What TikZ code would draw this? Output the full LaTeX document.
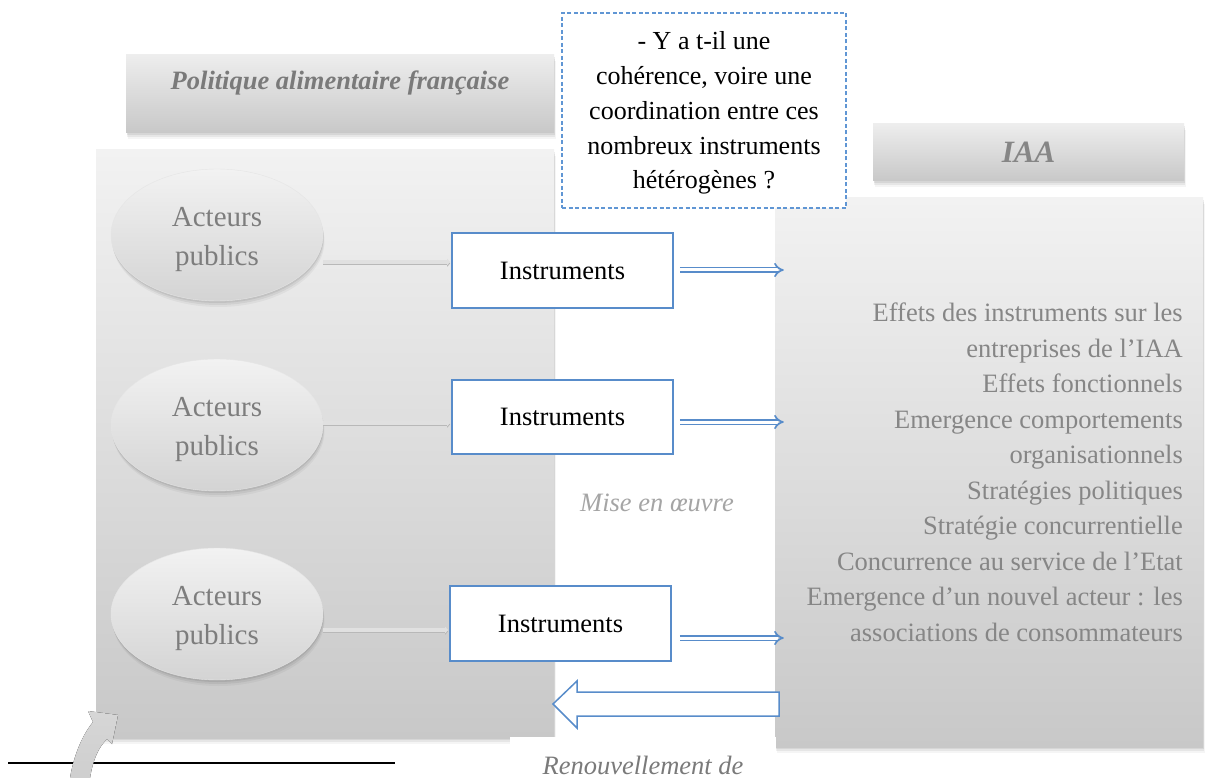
\documentclass[tikz,border=0pt]{standalone}
\usepackage{fontspec}
\setmainfont{Liberation Serif}
\usetikzlibrary{arrows.meta,calc,shapes.geometric,shadows}
\definecolor{myblue}{RGB}{88,140,202}
\definecolor{dashblue}{RGB}{96,150,212}
\definecolor{ttlgray}{RGB}{122,122,122}
\definecolor{acgray}{RGB}{125,125,125}
\definecolor{rtxt}{RGB}{134,134,134}
\definecolor{mise}{RGB}{165,165,165}
\definecolor{pantop}{RGB}{242,242,242}
\definecolor{panbot}{RGB}{200,200,200}
\begin{document}
\begin{tikzpicture}[x=1pt,y=-1pt,
  softshadow/.style={
    drop shadow={fill=black,opacity=0.07,shadow xshift=0.5pt,shadow yshift=-2pt},
    drop shadow={fill=black,opacity=0.06,shadow xshift=1pt,shadow yshift=-4pt},
    drop shadow={fill=black,opacity=0.04,shadow xshift=1.5pt,shadow yshift=-6pt}},
  panel/.style={softshadow, rectangle, inner sep=0pt, top color=pantop, bottom color=panbot, draw=none},
  titlebox/.style={softshadow, rectangle, inner sep=0pt, top color=pantop!98!black, bottom color=panbot, draw=none,
    font=\fontsize{26.5}{32}\selectfont\bfseries\itshape, text=ttlgray},
  acteur/.style={softshadow, ellipse, inner sep=0pt, minimum width=212pt, minimum height=132pt,
    top color=pantop, bottom color=black!17, draw=black!10, line width=0.4pt,
    align=center, font=\fontsize{29}{39}\selectfont, text=acgray},
  instr/.style={rectangle, fill=white, draw=myblue, line width=1.6pt, minimum width=221pt, minimum height=75pt,
    inner sep=0pt, font=\fontsize{26.5}{32}\selectfont, text=black},
  grayconn/.style={preaction={draw=black!28, line width=3pt, transform canvas={yshift=-1.5pt}},
    draw=black!12, line width=3.5pt, -{Triangle[length=3pt,width=6pt]}, shorten >=1pt},
  dblarrow/.style={draw=myblue, double=white, double distance=3pt, line width=1.7pt, -{Implies}},
]
\useasboundingbox (0,0) rectangle (1208,778);
\clip (0,0) rectangle (1208,778);
\fill[white] (0,0) rectangle (1208,778);

% panels
\node[panel, minimum width=458pt, minimum height=588pt] (lbox) at (325,444) {};
\node[panel, minimum width=428pt, minimum height=549pt] (rbox) at (989,472.5) {};
\node[titlebox, minimum width=428pt, minimum height=78pt, text height=19pt, text depth=27pt] (tl) at (340,94) {Politique alimentaire française};
\node[titlebox, minimum width=311pt, minimum height=57pt, font=\fontsize{31}{36}\selectfont\bfseries\itshape, text=rtxt] (tr) at (1028.5,152.5) {IAA};

% question box
\node[draw=dashblue, dash pattern=on 4pt off 2.5pt, line width=1.3pt, fill=white, minimum width=284pt, minimum height=195pt,
  inner sep=0pt, align=center, font=\fontsize{26}{34.9}\selectfont] (q) at (704,110.5)
  {\rule{0pt}{23pt}- Y a t-il une\\cohérence, voire une\\coordination entre ces\\nombreux instruments\\hétérogènes ?};

% actors
\node[acteur] (e1) at (217,235) {\rule{0pt}{27.5pt}Acteurs\\publics};
\node[acteur] (e2) at (217,425) {\rule{0pt}{27.5pt}Acteurs\\publics};
\node[acteur] (e3) at (217,614) {\rule{0pt}{27.5pt}Acteurs\\publics};

% instruments
\node[instr] (i1) at (562.5,270.5) {Instruments};
\node[instr, minimum height=74pt] (i2) at (562.5,417) {Instruments};
\node[instr] (i3) at (560.5,623.5) {Instruments};

% gray connectors
\coordinate (g1) at (0,262);
\coordinate (g2) at (0,423);
\coordinate (g3) at (0,630);
\draw[grayconn] (e1.east |- g1) -- (i1.west |- g1);
\draw[grayconn] (e2.east |- g2) -- (i2.west |- g2);
\draw[grayconn] (e3.east |- g3) -- (i3.west |- g3);

% blue double arrows
\coordinate (b1) at (0,270);
\coordinate (b2) at (0,422);
\coordinate (b3) at (0,638);
\draw[dblarrow, shorten <=6pt, shorten >=-9pt] (i1.east |- b1) -- (rbox.west |- b1);
\draw[dblarrow, shorten <=6pt, shorten >=-9pt] (i2.east |- b2) -- (rbox.west |- b2);
\draw[dblarrow, shorten <=8pt, shorten >=-9pt] (i3.east |- b3) -- (rbox.west |- b3);

% effects text
\node[anchor=north east, align=right, inner sep=0pt, font=\fontsize{26.5}{35.5}\selectfont, text=rtxt] (effets) at (1183,303)
  {Effets des instruments sur les\\entreprises de l’IAA\\Effets fonctionnels\\Emergence comportements\\organisationnels\\Stratégies politiques\\Stratégie concurrentielle\\Concurrence au service de l’Etat\\Emergence d’un nouvel acteur : les\\associations de consommateurs};

% mise en oeuvre
\node[font=\fontsize{26.5}{32}\selectfont\itshape, text=mise] (mise) at (657,503) {Mise en œuvre};

% big return arrow
\draw[draw=myblue, fill=white, line width=1.5pt, line join=miter]
  (553,704) -- (577,681) -- (577,692) -- (779,692) -- (779,716) -- (577,716) -- (577,728) -- cycle;

% renouvellement
\node[fill=white, minimum width=266pt, minimum height=41pt, inner sep=0pt, text height=34pt, text depth=0pt,
  font=\fontsize{26.5}{32}\selectfont\itshape, text=ttlgray] (renouv) at (643,757.5) {Renouvellement de};

% footnote rule
\draw[black, line width=1.4pt] (8,763) -- (395,763);

% curved arrow
\fill[top color=black!16, bottom color=black!19]
  (70,778) .. controls (73,760) and (80,738) .. (93,722) -- (88,711) -- (118,715) -- (112,744) -- (107,739)
  .. controls (98,748) and (93,760) .. (90,778) -- cycle;
\end{tikzpicture}
\end{document}
